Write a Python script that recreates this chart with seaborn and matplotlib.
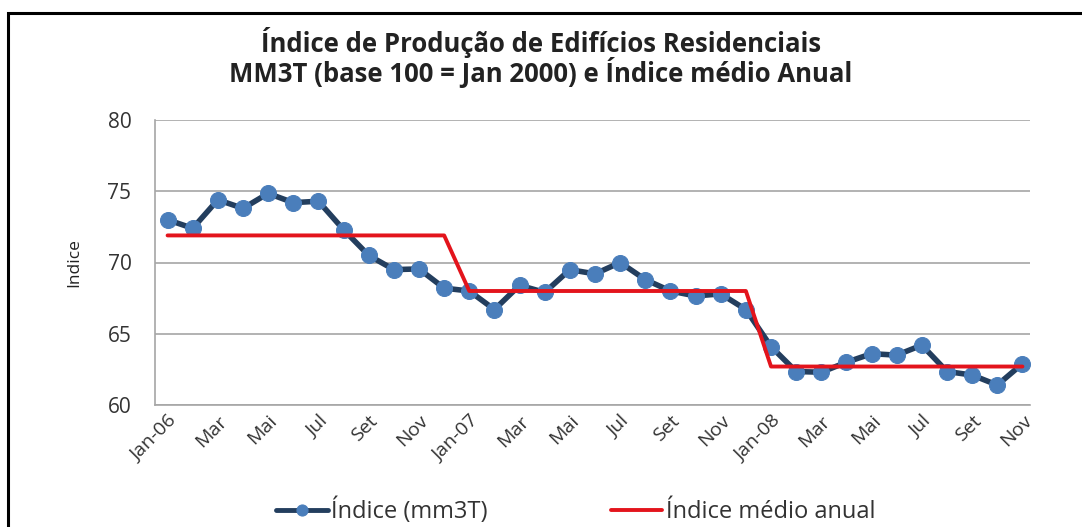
import matplotlib
matplotlib.use("Agg")
import matplotlib.pyplot as plt
import seaborn as sns
import pandas as pd
from matplotlib.patches import Rectangle

months = ["Jan-06", "Fev", "Mar", "Abr", "Mai", "Jun", "Jul", "Ago", "Set", "Out", "Nov", "Dez",
          "Jan-07", "Fev", "Mar", "Abr", "Mai", "Jun", "Jul", "Ago", "Set", "Out", "Nov", "Dez",
          "Jan-08", "Fev", "Mar", "Abr", "Mai", "Jun", "Jul", "Ago", "Set", "Out", "Nov"]
years = [2006] * 12 + [2007] * 12 + [2008] * 11
indice = [73.0, 72.4, 74.4, 73.8, 74.85, 74.2, 74.3, 72.3, 70.5, 69.5, 69.55, 68.2,
          68.0, 66.7, 68.4, 67.9, 69.5, 69.2, 70.0, 68.8, 68.0, 67.65, 67.8, 66.7,
          64.1, 62.35, 62.3, 63.0, 63.6, 63.5, 64.2, 62.35, 62.1, 61.4, 62.9]
annual_years = [2006, 2007, 2008]
annual_mean = [71.9, 68.0, 62.7]

tick_labels = ["Jan-06", "Mar", "Mai", "Jul", "Set", "Nov",
               "Jan-07", "Mar", "Mai", "Jul", "Set", "Nov",
               "Jan-08", "Mar", "Mai", "Jul", "Set", "Nov"]

mean_map = dict(zip(annual_years, annual_mean))
df = pd.DataFrame({
    "pos": range(len(months)),
    "mes": months,
    "indice": indice,
    "media": [mean_map[y] for y in years],
})

sns.set_theme(style="white")
plt.rcParams["font.family"] = ["Open Sans", "DejaVu Sans"]

fig = plt.figure(figsize=(10.82, 5.27), dpi=100)
ax = fig.add_axes([155 / 1082, 1 - 405 / 527, (1030 - 155) / 1082, (405 - 120) / 527])

sns.lineplot(data=df, x="pos", y="indice", ax=ax, color="#233E5E", linewidth=4,
             marker="o", markersize=11.5, markerfacecolor="#4A7EBB",
             markeredgecolor="#4A7EBB", label="Índice (mm3T)", zorder=3)
sns.lineplot(data=df, x="pos", y="media", ax=ax, color="#E3141C", linewidth=2.8,
             label="Índice médio anual", zorder=4)

ax.set_ylim(60, 80)
ax.set_yticks([60, 65, 70, 75, 80])
ax.set_xlim(-0.5, 34.3)
ax.set_xticks(range(0, len(months), 2))
ax.set_xticklabels(tick_labels, rotation=45, ha="right", rotation_mode="anchor",
                   fontsize=14, color="#333333")
ax.tick_params(axis="y", labelsize=15, colors="#333333", length=0, pad=17)
ax.tick_params(axis="x", length=0, pad=5)
ax.yaxis.grid(True, color="#A6A6A6", linewidth=1.2)
ax.set_axisbelow(True)
for s in ["top", "right"]:
    ax.spines[s].set_visible(False)
ax.spines["left"].set_color("#A6A6A6")
ax.spines["bottom"].set_color("#A6A6A6")
ax.spines["left"].set_linewidth(1.2)
ax.spines["bottom"].set_linewidth(1.2)
ax.set_xlabel("")
ax.set_ylabel("Indice", fontsize=12.5, color="#222222", labelpad=18)

fig.text(0.5, 1 - 42 / 527, "Índice de Produção de Edifícios Residenciais",
         ha="center", va="center", fontsize=18.5, fontweight="bold", color="#222222")
fig.text(0.5, 1 - 73 / 527, "MM3T (base 100 = Jan 2000) e Índice médio Anual",
         ha="center", va="center", fontsize=18.5, fontweight="bold", color="#222222")

ax.get_legend().remove()
handles, labels = ax.get_legend_handles_labels()
leg = fig.legend(handles, labels, loc="center", bbox_to_anchor=(0.532, 1 - 511 / 527),
                 ncol=2, frameon=False, fontsize=17, columnspacing=5.2, handlelength=2.2,
                 handletextpad=0.15, labelcolor="#333333")
leg.legend_handles[0].set_markersize(8)
leg.legend_handles[0].set_linewidth(3.5)

fig.patches.append(Rectangle((8 / 1082, -0.05), 1.2, 1 - 13 / 527 + 0.05,
                             transform=fig.transFigure, fill=False,
                             edgecolor="black", linewidth=2.2, zorder=10))

fig.savefig("out.png", dpi=100, facecolor="white")
